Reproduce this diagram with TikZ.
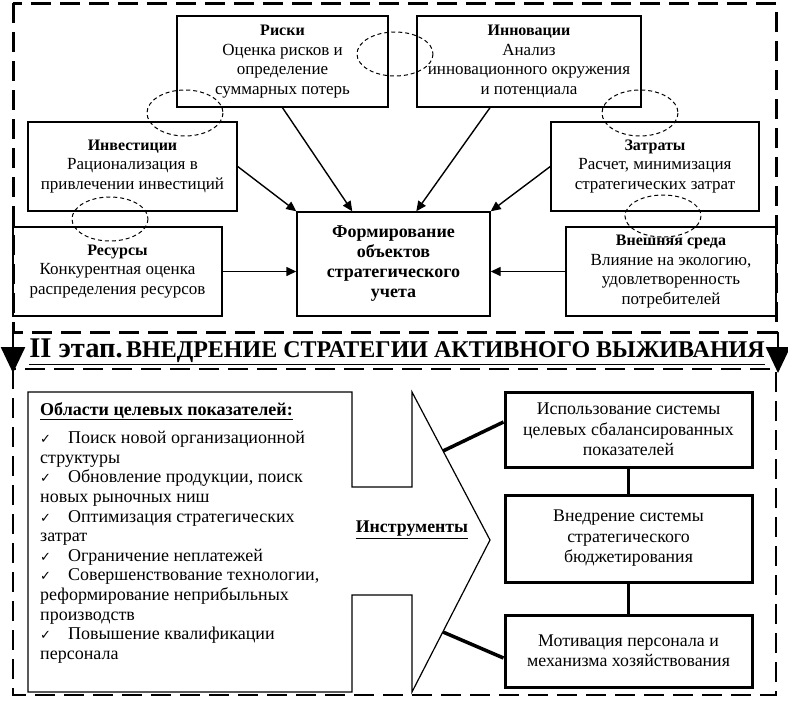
\documentclass[tikz,border=0pt]{standalone}
\usepackage{fontspec}
\setmainfont{Liberation Serif}
\newfontfamily\symfont{DejaVu Sans}
\usetikzlibrary{arrows.meta}

\newcommand\chk{{\symfont\fontsize{13}{19}\selectfont ✓}\hspace{17pt}}
\newcommand\hd[1]{{\bfseries\fontsize{16}{19.5}\selectfont #1}}

\begin{document}
\begin{tikzpicture}[x=1pt,y=-1pt]

  \tikzstyle{box} = [draw, line width=1.4, align=center, inner sep=2, font=\fontsize{17}{19.5}\selectfont]
  \tikzstyle{tool} = [draw, line width=3, align=center, inner sep=2, minimum width=247, font=\fontsize{17.8}{20.5}\selectfont]
  \tikzstyle{oval} = [line width=1, dash pattern=on 4pt off 3pt]
  \tikzstyle{stageframe} = [line width=3, dash pattern=on 20pt off 9pt]
  \tikzstyle{feed} = [line width=1.4, -{Triangle[length=10pt,width=9pt]}]
  \tikzstyle{bigarrow} = [line width=2.5, -{Triangle[length=26pt,width=24pt]}]
  \tikzstyle{link} = [line width=3.5]

  \useasboundingbox (0,0) rectangle (788,702);

  % stage I
  \draw[stageframe] (13,3) rectangle (776,332);

  \node (risk) [box, minimum width=211, minimum height=91] at (282.5,61.5)
    {\hd{Риски}\\Оценка рисков и\\определение\\суммарных потерь};
  \node (innov) [box, minimum width=224, minimum height=91] at (529,61.5)
    {\hd{Инновации}\\Анализ\\инновационного окружения\\и потенциала};
  \node (invest) [box, minimum width=209, minimum height=89] at (132.5,166.5)
    {\hd{Инвестиции}\\Рационализация в\\привлечении инвестиций};
  \node (cost) [box, minimum width=208, minimum height=89] at (655,166.5)
    {\hd{Затраты}\\Расчет, минимизация\\стратегических затрат};
  \node (res) [box, minimum width=209, minimum height=89] at (117.5,271.5)
    {\hd{Ресурсы}\\Конкурентная оценка\\распределения ресурсов};
  \node (env) [box, minimum width=210, minimum height=89] at (671,271.5)
    {\hd{Внешняя среда}\\Влияние на экологию,\\удовлетворенность\\потребителей};
  \node (form) [box, minimum width=193, minimum height=104, font=\bfseries\fontsize{18}{20}\selectfont] at (393.5,264)
    {Формирование\\объектов\\стратегического\\учета};

  \draw[oval] (395,54) ellipse [x radius=38, y radius=22];
  \draw[oval] (185,113) ellipse [x radius=38, y radius=23];
  \draw[oval] (110,219) ellipse [x radius=38, y radius=22];
  \draw[oval] (640,113) ellipse [x radius=38, y radius=23];
  \draw[oval] (663,216) ellipse [x radius=38, y radius=21];

  \draw[feed] (risk.south) -- ([xshift=56pt]form.north west);
  \draw[feed] (invest.east) -- (form.north west);
  \draw[feed] ([xshift=-39pt]innov.south) -- ([xshift=120pt]form.north west);
  \draw[feed] (cost.west) -- (form.north east);
  \draw[feed] (res.east) -- (res.east -| form.west);
  \draw[feed] (env.west) -- (env.west -| form.east);

  % stage II
  \coordinate (upL) at (13,332);
  \coordinate (loL) at (13,373);
  \coordinate (upR) at (778,332);
  \coordinate (loR) at (778,373);
  \draw[bigarrow] (upL) -- (loL);
  \draw[bigarrow] (upR) -- (loR);

  \node (stage) at (397,352) {\bfseries\underline{{\fontsize{28.5}{28}\selectfont II этап.} \fontsize{24}{24}\selectfont ВНЕДРЕНИЕ СТРАТЕГИИ АКТИВНОГО ВЫЖИВАНИЯ}};

  \draw[stageframe, line width=2.5] (13,369) rectangle (776,695);

  \draw[line width=1.2] (28,392) -- (352,392) -- (352,487) -- (412,487) -- (412,392)
    -- (490,540) -- (412,692) -- (412,595) -- (352,595) -- (352,692) -- (28,692) -- cycle;
  \coordinate (tipup) at (443,451);
  \coordinate (tipdn) at (443,632);

  \node (areas) [anchor=north west, align=left, inner sep=0, font=\fontsize{18}{19.6}\selectfont] at (40,402)
    {\textbf{\underline{Области целевых показателей:}}\\[9pt]
     \chk Поиск новой организационной\\
     структуры\\
     \chk Обновление продукции, поиск\\
     новых рыночных ниш\\
     \chk Оптимизация стратегических\\
     затрат\\
     \chk Ограничение неплатежей\\
     \chk Совершенствование технологии,\\
     реформирование неприбыльных\\
     производств\\
     \chk Повышение квалификации\\
     персонала};

  \node (instr) [font=\bfseries\fontsize{17.8}{19.5}\selectfont] at (412,530) {\underline{Инструменты}};

  \node (use) [tool, minimum height=75] at (628.5,429.5)
    {Использование системы\\целевых сбалансированных\\показателей};
  \node (budget) [tool, minimum height=87] at (628.5,538.5)
    {Внедрение системы\\стратегического\\бюджетирования};
  \node (motiv) [tool, minimum height=72] at (628.5,651)
    {Мотивация персонала и\\механизма хозяйствования};

  \draw[link] (use) -- (budget);
  \draw[link] (budget) -- (motiv);
  \draw[link] (tipup) -- ([yshift=7.5pt]use.west);
  \draw[link] (tipdn) -- ([yshift=-7pt]motiv.west);

\end{tikzpicture}
\end{document}
